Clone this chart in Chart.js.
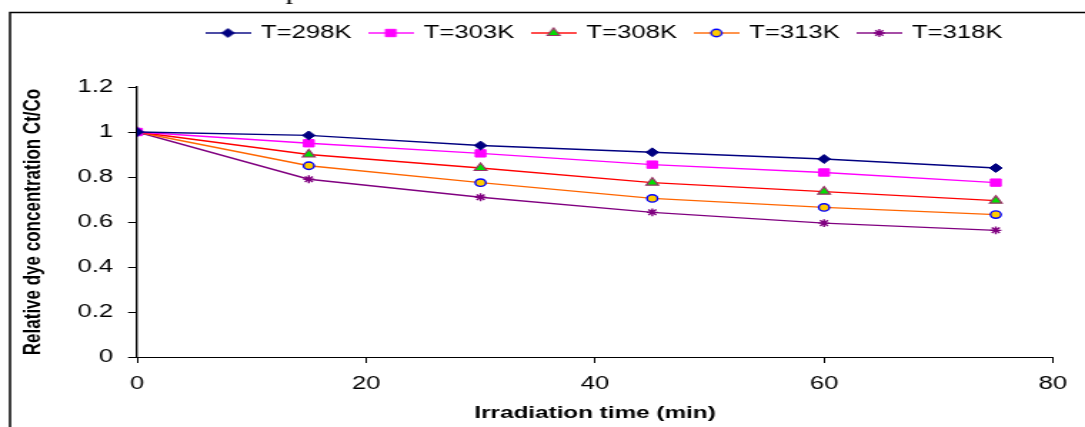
<!DOCTYPE html>
<html>
<head>
<meta charset="utf-8">
<script src="https://cdn.jsdelivr.net/npm/chart.js@4.4.1/dist/chart.umd.min.js"></script>
<style>
  html, body { margin: 0; padding: 0; background: #fff; overflow: hidden; }
</style>
</head>
<body>
<!-- the original figure is stretched sideways, so the canvas is too -->
<canvas id="myChart" width="760" height="427" style="display:block;width:1085px;height:427px"></canvas>
<script>
const time = [0, 15, 30, 45, 60, 75];
const t298 = [1, 0.985, 0.94, 0.91, 0.88, 0.84];
const t303 = [1, 0.95, 0.905, 0.855, 0.82, 0.775];
const t308 = [1, 0.9, 0.84, 0.775, 0.735, 0.695];
const t313 = [1, 0.85, 0.775, 0.705, 0.665, 0.633];
const t318 = [1, 0.79, 0.71, 0.643, 0.595, 0.563];
const seriesNames = ["T=298K", "T=303K", "T=308K", "T=313K", "T=318K"];
const xTicks = [0, 20, 40, 60, 80];
const yTicks = [0, 0.2, 0.4, 0.6, 0.8, 1, 1.2];

const styles = [
  { line: "#000080", fill: "#000080", edge: "#000080", shape: "rectRot", r: 4.4, bw: 1 },
  { line: "#FF00FF", fill: "#FF00FF", edge: "#FF00FF", shape: "rect", r: 5.2, bw: 1 },
  { line: "#FF0000", fill: "#00E000", edge: "#993366", shape: "triangle", r: 5, bw: 1.2 },
  { line: "#FF6600", fill: "#FFCC00", edge: "#0000FF", shape: "circle", r: 3.7, bw: 1.4 },
  { line: "#800080", fill: "#800080", edge: "#800080", shape: "star", r: 3.9, bw: 1.4 },
];
const values = [t298, t303, t308, t313, t318];

Chart.defaults.font.family = "'Liberation Sans', Arial, sans-serif";
Chart.defaults.color = "#000";

// line + marker icons for the legend
const legendIcons = styles.map(function (s) {
  const c = document.createElement("canvas");
  c.width = 32;
  c.height = 14;
  const g = c.getContext("2d");
  g.strokeStyle = s.line;
  g.lineWidth = 1.4;
  g.beginPath();
  g.moveTo(0, 7);
  g.lineTo(32, 7);
  g.stroke();
  g.fillStyle = s.fill;
  g.strokeStyle = s.edge;
  g.lineWidth = s.bw;
  Chart.helpers.drawPoint(g, { pointStyle: s.shape, radius: s.r, borderWidth: s.bw, rotation: 0 }, 16, 7);
  return c;
});

const framePlugin = {
  id: "frame",
  afterLayout(chart) {
    // legend sits high above the plot, a little right of centre
    const lg = chart.legend;
    const h = lg.height, w = lg.width;
    lg.top = 10.5;
    lg.bottom = lg.top + h;
    lg.left = 424 - w / 2;
    lg.right = lg.left + w;
  },
  afterDraw(chart) {
    const g = chart.ctx;
    g.save();
    g.strokeStyle = "#000";
    g.lineWidth = 1.5;
    g.beginPath();
    g.moveTo(7, 427);
    g.lineTo(7, 12.5);
    g.lineTo(760, 12.5);
    g.stroke();
    // bit of the page text that sits above the figure
    g.fillStyle = "#000";
    g.font = "22px 'Liberation Serif', serif";
    g.textBaseline = "alphabetic";
    g.fillText("p", 200, -1);
    g.restore();
  },
};

const datasets = values.map(function (v, i) {
  const s = styles[i];
  return {
    label: seriesNames[i],
    data: time.map(function (t, j) { return { x: t, y: v[j] }; }),
    borderColor: s.line,
    borderWidth: 1.4,
    pointStyle: s.shape,
    pointRadius: s.r,
    pointBackgroundColor: s.fill,
    pointBorderColor: s.edge,
    pointBorderWidth: s.bw,
    tension: 0,
    fill: false,
  };
});

const ctx = document.getElementById("myChart");
const myChart = new Chart(ctx, {
  type: "line",
  data: { datasets: datasets },
  plugins: [framePlugin],
  options: {
    responsive: false,
    animation: false,
    layout: { padding: { top: 10.5, left: 0, right: 22.4, bottom: 0 } },
    plugins: {
      tooltip: { enabled: false },
      legend: {
        position: "top",
        fullSize: false,
        labels: {
          usePointStyle: true,
          pointStyleWidth: 28,
          padding: 13.5,
          color: "#000",
          font: { size: 18 },
          generateLabels: function (chart) {
            return Chart.defaults.plugins.legend.labels.generateLabels(chart).map(function (it, i) {
              it.pointStyle = legendIcons[i];
              return it;
            });
          },
        },
      },
    },
    scales: {
      x: {
        type: "linear",
        min: xTicks[0],
        max: xTicks[xTicks.length - 1],
        afterBuildTicks: function (s) { s.ticks = xTicks.map(function (v) { return { value: v }; }); },
        afterFit: function (s) { s.height = 70; },
        border: { color: "#000", width: 1 },
        grid: { drawOnChartArea: false, drawTicks: true, tickLength: 6, color: "#000" },
        ticks: { color: "#000", padding: 10, font: { size: 18 } },
        title: {
          display: true,
          text: "Irradiation time (min)",
          color: "#000",
          font: { size: 17, weight: "bold" },
          padding: { top: 0, bottom: 3.5 },
        },
      },
      y: {
        min: yTicks[0],
        max: yTicks[yTicks.length - 1],
        afterBuildTicks: function (s) { s.ticks = yTicks.map(function (v) { return { value: v }; }); },
        afterFit: function (s) { s.width = 96; s.paddingTop = 87; },
        border: { color: "#000", width: 1.4 },
        grid: { drawOnChartArea: false, drawTicks: true, tickLength: 6.3, color: "#000" },
        ticks: {
          color: "#000",
          padding: 10.5,
          font: { size: 18 },
          callback: function (v) { return String(v); },
        },
        title: {
          display: true,
          text: "Relative dye concentration Ct/Co",
          color: "#000",
          font: { size: 17, weight: "bold" },
          padding: { top: 13, bottom: 0 },
        },
      },
    },
  },
});
</script>
</body>
</html>
